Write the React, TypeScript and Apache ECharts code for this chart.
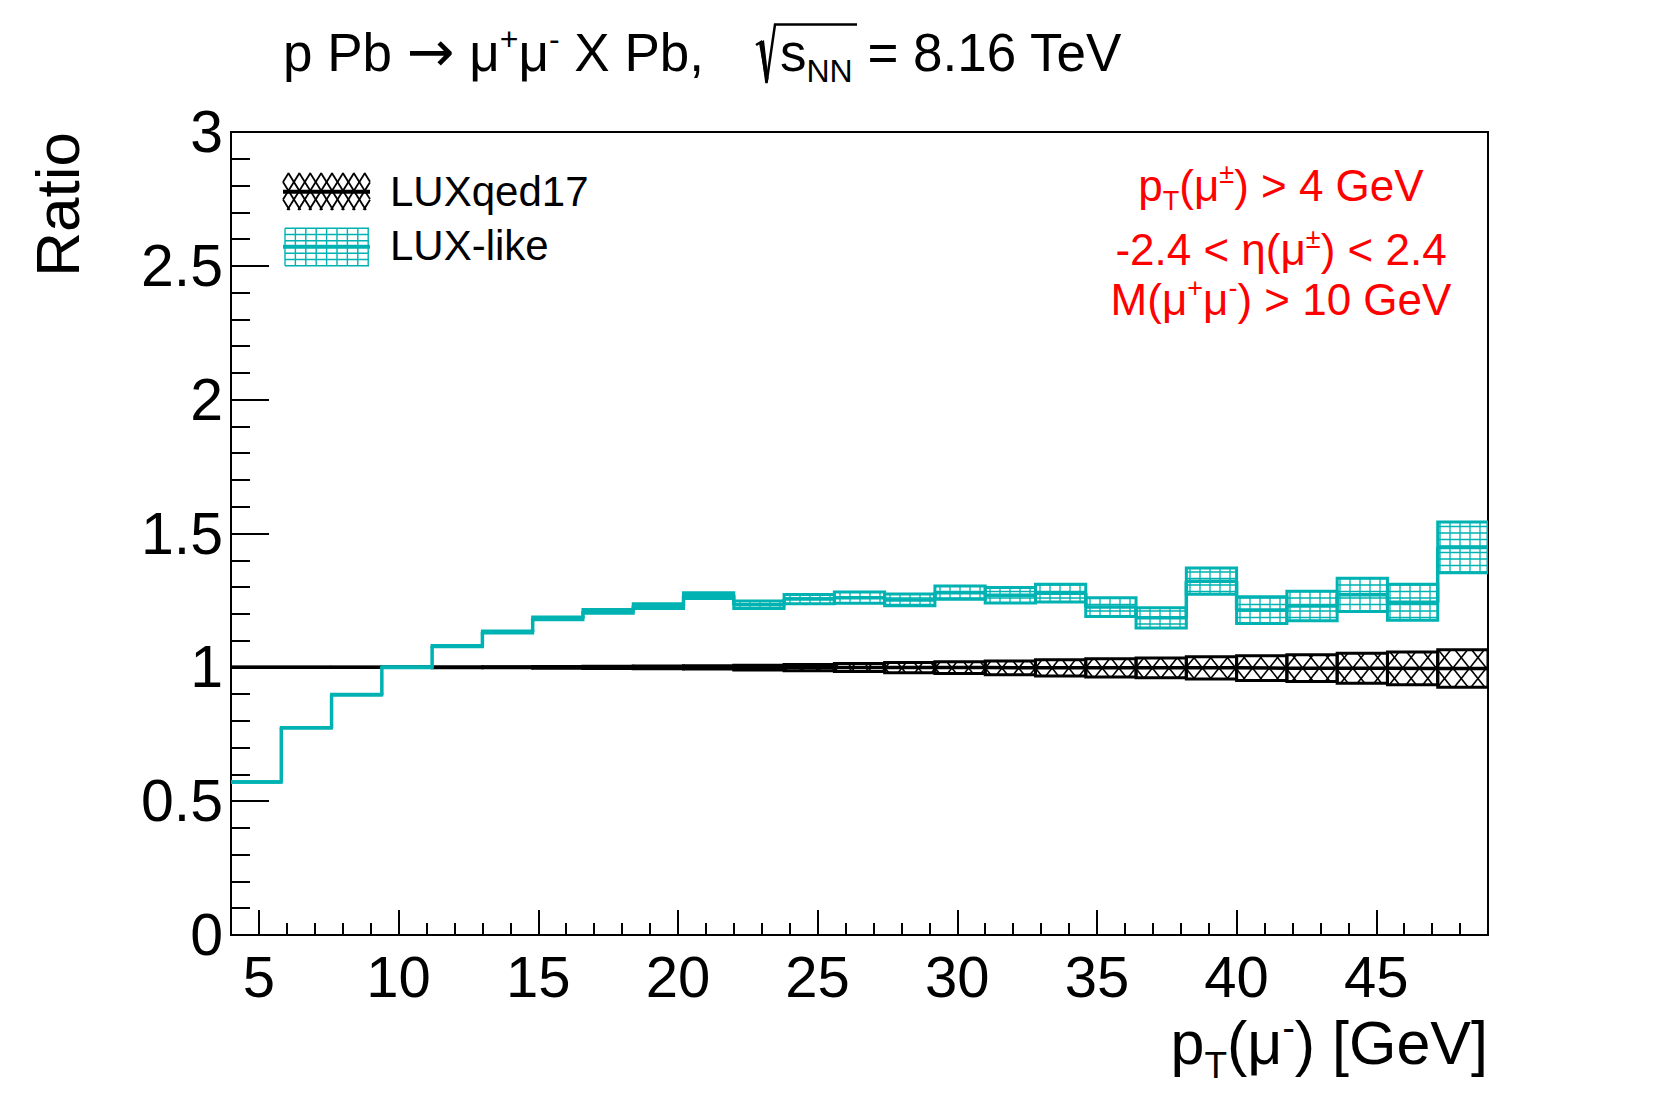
import React, { useEffect, useRef } from 'react';
import * as echarts from 'echarts';

// ---------- data ----------
const binEdges = [4, 5.8, 7.6, 9.4, 11.2, 13, 14.8, 16.6, 18.4, 20.2, 22, 23.8, 25.6, 27.4, 29.2, 31, 32.8, 34.6, 36.4, 38.2, 40, 41.8, 43.6, 45.4, 47.2, 49];
const luxLikeRatio = [0.572, 0.774, 0.898, 1.0, 1.079, 1.132, 1.183, 1.209, 1.229, 1.268, 1.234, 1.255, 1.26, 1.252, 1.279, 1.269, 1.277, 1.225, 1.185, 1.322, 1.214, 1.229, 1.271, 1.243, 1.448];
const luxLikeErr = [0.001, 0.001, 0.0015, 0.002, 0.0025, 0.0037, 0.0055, 0.007, 0.009, 0.011, 0.014, 0.017, 0.021, 0.022, 0.025, 0.029, 0.033, 0.035, 0.038, 0.049, 0.05, 0.055, 0.062, 0.067, 0.095];
const luxqedRatio = [1.0, 1.0, 1.0, 1.0, 1.0, 1.0, 1.0, 1.0, 1.0, 1.0, 0.999, 0.999, 0.999, 0.999, 0.999, 0.998, 0.998, 0.998, 0.998, 0.998, 0.997, 0.997, 0.997, 0.996, 0.996];
const luxqedErr = [0, 0, 0.0005, 0.001, 0.0015, 0.002, 0.003, 0.004, 0.005, 0.006, 0.009, 0.012, 0.015, 0.019, 0.022, 0.026, 0.03, 0.034, 0.037, 0.042, 0.046, 0.05, 0.056, 0.061, 0.07];
const xTickValues = [5, 10, 15, 20, 25, 30, 35, 40, 45];
const xRange = [4, 49];
const yRange = [0, 3];
const legendNames = ['LUXqed17', 'LUX-like'];

const TEAL = '#00b2b2';
const FONT = '"Liberation Sans", Arial, Helvetica, sans-serif';
const ARROW_FONT = '"DejaVu Sans", "Liberation Sans", sans-serif';

// ---------- helpers ----------
let measureCtx: CanvasRenderingContext2D | null = null;
function measure(t: string, size: number, family = FONT): number {
  if (!measureCtx) measureCtx = document.createElement('canvas').getContext('2d');
  measureCtx!.font = `${size}px ${family}`;
  return measureCtx!.measureText(t).width;
}

type Run = { t: string; s: number; dy: number; f?: string };

function textEl(t: string, x: number, baseline: number, size: number, color: string, align = 'left', family = FONT) {
  return {
    type: 'text',
    silent: true,
    style: {
      text: t,
      x,
      y: baseline - 0.3465 * size,
      font: `${size}px ${family}`,
      fill: color,
      align,
      textAlign: align,
      verticalAlign: 'middle',
      textVerticalAlign: 'middle',
    },
  };
}

function layoutRuns(runs: Run[], x: number, baseline: number, align: 'left' | 'center' | 'right', color: string) {
  const widths = runs.map((r) => measure(r.t, r.s, r.f || FONT));
  const total = widths.reduce((a, b) => a + b, 0);
  let cx = align === 'left' ? x : align === 'center' ? x - total / 2 : x - total;
  const els: any[] = [];
  runs.forEach((r, i) => {
    els.push(textEl(r.t, cx, baseline - r.dy, r.s, color, 'left', r.f || FONT));
    cx += widths[i];
  });
  return els;
}

function gridHatch(rx: number, ry: number, w: number, h: number, dx: number, dy: number, ox: number, oy: number, color: string, lw: number, inclusive = false) {
  const out: any[] = [];
  const eps = inclusive ? 0.01 : -0.01;
  for (let x = ox + Math.ceil((rx - ox - (inclusive ? 0.01 : 0)) / dx) * dx; x < rx + w + eps; x += dx) {
    out.push({ type: 'line', silent: true, shape: { x1: x, y1: ry, x2: x, y2: ry + h }, style: { stroke: color, lineWidth: lw } });
  }
  for (let y = oy + Math.ceil((ry - oy - (inclusive ? 0.01 : 0)) / dy) * dy; y < ry + h + eps; y += dy) {
    out.push({ type: 'line', silent: true, shape: { x1: rx, y1: y, x2: rx + w, y2: y }, style: { stroke: color, lineWidth: lw } });
  }
  return out;
}

// two families of slanted lines (slopes +s and -s), horizontal period P
function crossHatch(rx: number, ry: number, w: number, h: number, P: number, s: number, ox: number, oy: number, color: string, lw: number) {
  const out: any[] = [];
  const C = s * P;
  // family A: s*(x-ox) + (y-oy) = c  -> y = oy + c - s*(x-ox)
  {
    const cMin = s * (rx - ox) + (ry - oy);
    const cMax = s * (rx + w - ox) + (ry + h - oy);
    for (let k = Math.ceil(cMin / C); k * C <= cMax; k++) {
      const c = k * C;
      const xa = Math.max(rx, ox + (c - (ry + h - oy)) / s);
      const xb = Math.min(rx + w, ox + (c - (ry - oy)) / s);
      if (xb > xa)
        out.push({ type: 'line', silent: true, shape: { x1: xa, y1: oy + c - s * (xa - ox), x2: xb, y2: oy + c - s * (xb - ox) }, style: { stroke: color, lineWidth: lw } });
    }
  }
  // family B: s*(x-ox) - (y-oy) = c -> y = oy + s*(x-ox) - c
  {
    const cMin = s * (rx - ox) - (ry + h - oy);
    const cMax = s * (rx + w - ox) - (ry - oy);
    for (let k = Math.ceil(cMin / C); k * C <= cMax; k++) {
      const c = k * C;
      const xa = Math.max(rx, ox + (c + (ry - oy)) / s);
      const xb = Math.min(rx + w, ox + (c + (ry + h - oy)) / s);
      if (xb > xa)
        out.push({ type: 'line', silent: true, shape: { x1: xa, y1: oy + s * (xa - ox) - c, x2: xb, y2: oy + s * (xb - ox) - c }, style: { stroke: color, lineWidth: lw } });
    }
  }
  return out;
}

function boxRenderer(kind: 'cross' | 'grid', color: string) {
  return (params: any, api: any) => {
    const lo = api.value(0);
    const hi = api.value(1);
    const c = api.value(2);
    const d = api.value(3);
    const p1 = api.coord([lo, c + d]);
    const p2 = api.coord([hi, c - d]);
    const rx = p1[0];
    const ry = p1[1];
    const w = p2[0] - p1[0];
    const h = p2[1] - p1[1];
    const children =
      kind === 'cross'
        ? crossHatch(rx, ry, w, h, 16.7, 1.25, 0, 0, color, 1.6)
        : gridHatch(rx, ry, w, h, 10, 6.5, 0, 0, color, 1.3);
    children.push({
      type: 'rect',
      silent: true,
      shape: { x: rx, y: ry, width: w, height: h },
      style: { fill: 'none', stroke: color, lineWidth: 3 },
    });
    return { type: 'group', children };
  };
}

function boxData(vals: number[], errs: number[]) {
  return vals.map((v, i) => [binEdges[i], binEdges[i + 1], v, errs[i]]);
}
function stepData(vals: number[]) {
  return binEdges.map((e, i) => [e, vals[Math.min(i, vals.length - 1)]]);
}

function buildGraphic() {
  const g: any[] = [];
  // Title
  const T = 53;
  const ts = 32;
  g.push(
    ...layoutRuns(
      [
        { t: 'p Pb ', s: T, dy: 0 },
        { t: '\u2192', s: 57, dy: 0, f: ARROW_FONT },
        { t: ' \u03bc', s: T, dy: 0 },
        { t: '+', s: ts, dy: 21 },
        { t: '\u03bc', s: T, dy: 0 },
        { t: '-', s: ts, dy: 21 },
        { t: ' X Pb,', s: T, dy: 0 },
      ],
      283,
      71,
      'left',
      '#000'
    )
  );
  // radical
  g.push({
    type: 'polyline',
    silent: true,
    shape: { points: [[756, 45], [761, 42], [766.5, 83], [775, 24.5], [857, 24.5]] },
    style: { stroke: '#000', lineWidth: 2.5, fill: 'none' },
  });
  g.push({
    type: 'polygon',
    silent: true,
    shape: { points: [[759, 43], [764, 40], [768.5, 79], [766, 83]] },
    style: { fill: '#000' },
  });
  g.push(
    ...layoutRuns(
      [
        { t: 's', s: T, dy: 0 },
        { t: 'NN', s: ts, dy: -11 },
        { t: ' = 8.16 TeV', s: T, dy: 0 },
      ],
      780,
      71,
      'left',
      '#000'
    )
  );

  // Red selection text
  const R = 44;
  const rs = 27;
  const red = '#ff0000';
  g.push(
    ...layoutRuns(
      [
        { t: 'p', s: R, dy: 0 },
        { t: 'T', s: rs, dy: -10 },
        { t: '(\u03bc', s: R, dy: 0 },
        { t: '\u00b1', s: rs, dy: 17 },
        { t: ') > 4 GeV', s: R, dy: 0 },
      ],
      1281,
      200.5,
      'center',
      red
    )
  );
  g.push(
    ...layoutRuns(
      [
        { t: '-2.4 < \u03b7(\u03bc', s: R, dy: 0 },
        { t: '\u00b1', s: rs, dy: 17 },
        { t: ') < 2.4', s: R, dy: 0 },
      ],
      1281,
      265,
      'center',
      red
    )
  );
  g.push(
    ...layoutRuns(
      [
        { t: 'M(\u03bc', s: R, dy: 0 },
        { t: '+', s: rs, dy: 17 },
        { t: '\u03bc', s: R, dy: 0 },
        { t: '-', s: rs, dy: 17 },
        { t: ') > 10 GeV', s: R, dy: 0 },
      ],
      1281,
      314.5,
      'center',
      red
    )
  );

  // Legend
  const L = 42;
  g.push(...crossHatch(283, 173, 87, 37, 10.9, 1.6, 283, 182, '#000', 1.8));
  g.push({ type: 'line', silent: true, shape: { x1: 283, y1: 191.7, x2: 370, y2: 191.7 }, style: { stroke: '#000', lineWidth: 4 } });
  g.push(textEl(legendNames[0], 390, 205.8, L, '#000'));
  g.push(...gridHatch(285, 228.3, 84, 37.4, 10.4, 6.23, 285, 228.3, TEAL, 1.4, true));
  g.push({ type: 'line', silent: true, shape: { x1: 283, y1: 246.7, x2: 370, y2: 246.7 }, style: { stroke: TEAL, lineWidth: 4 } });
  g.push(textEl(legendNames[1], 390, 259.6, L, '#000'));

  // Y axis title (rotated)
  g.push({
    type: 'text',
    silent: true,
    x: 57,
    y: 132,
    rotation: Math.PI / 2,
    style: {
      text: 'Ratio',
      x: 0,
      y: 0,
      font: `62px ${FONT}`,
      fill: '#000',
      align: 'right',
      textAlign: 'right',
      verticalAlign: 'middle',
      textVerticalAlign: 'middle',
    },
  });

  // X axis title
  g.push(
    ...layoutRuns(
      [
        { t: 'p', s: 61, dy: 0 },
        { t: 'T', s: 37, dy: -14 },
        { t: '(\u03bc', s: 61, dy: 0 },
        { t: '-', s: 37, dy: 24 },
        { t: ') [GeV]', s: 61, dy: 0 },
      ],
      1488,
      1064,
      'right',
      '#000'
    )
  );
  return g;
}

export default function App() {
  const ref = useRef<HTMLDivElement>(null);
  useEffect(() => {
    if (!ref.current) return;
    const chart = echarts.init(ref.current, undefined, { renderer: 'svg' });
    const tickLine = { color: '#000', width: 2 };
    chart.setOption({
      animation: false,
      backgroundColor: '#fff',
      grid: {
        left: 231,
        top: 132,
        right: 167,
        bottom: 168,
        show: true,
        borderColor: '#000',
        borderWidth: 2,
        backgroundColor: 'transparent',
        containLabel: false,
      },
      xAxis: [
        {
          type: 'value',
          position: 'bottom',
          min: xRange[0],
          max: xRange[1],
          axisLine: { show: true, onZero: false, lineStyle: tickLine },
          axisTick: { show: true, inside: true, length: 25, lineStyle: tickLine, customValues: xTickValues },
          axisLabel: {
            show: true,
            customValues: xTickValues,
            margin: 12,
            color: '#000',
            fontFamily: FONT,
            fontSize: 58,
            lineHeight: 58,
          },
          splitLine: { show: false },
        },
        {
          type: 'value',
          position: 'bottom',
          min: xRange[0],
          max: xRange[1],
          interval: 1,
          axisLine: { show: false, onZero: false },
          axisTick: { show: true, inside: true, length: 12, lineStyle: tickLine },
          axisLabel: { show: false },
          splitLine: { show: false },
        },
      ],
      yAxis: {
        type: 'value',
        min: yRange[0],
        max: yRange[1],
        interval: 0.5,
        axisLine: { show: true, onZero: false, lineStyle: tickLine },
        axisTick: { show: true, inside: true, length: 38, lineStyle: tickLine },
        minorTick: { show: true, splitNumber: 5, length: 19, lineStyle: tickLine },
        axisLabel: { color: '#000', fontFamily: FONT, fontSize: 59, margin: 8 },
        splitLine: { show: false },
        minorSplitLine: { show: false },
      },
      series: [
        {
          name: legendNames[0] + ' band',
          type: 'custom',
          xAxisIndex: 0,
          yAxisIndex: 0,
          renderItem: boxRenderer('cross', '#000'),
          data: boxData(luxqedRatio, luxqedErr),
          encode: { x: [0, 1], y: 2 },
          clip: true,
          z: 2,
          silent: true,
        },
        {
          name: legendNames[0],
          type: 'line',
          xAxisIndex: 0,
          yAxisIndex: 0,
          step: 'end',
          symbol: 'none',
          data: stepData(luxqedRatio),
          lineStyle: { color: '#000', width: 3.5 },
          clip: true,
          z: 3,
          silent: true,
        },
        {
          name: legendNames[1] + ' band',
          type: 'custom',
          xAxisIndex: 0,
          yAxisIndex: 0,
          renderItem: boxRenderer('grid', TEAL),
          data: boxData(luxLikeRatio, luxLikeErr),
          encode: { x: [0, 1], y: 2 },
          clip: true,
          z: 4,
          silent: true,
        },
        {
          name: legendNames[1],
          type: 'line',
          xAxisIndex: 0,
          yAxisIndex: 0,
          step: 'end',
          symbol: 'none',
          data: stepData(luxLikeRatio),
          lineStyle: { color: TEAL, width: 3.5 },
          clip: true,
          z: 5,
          silent: true,
        },
      ],
      graphic: buildGraphic(),
    });
    return () => {
      chart.dispose();
    };
  }, []);
  return (
    <div
      ref={ref}
      style={{ position: 'absolute', left: 0, top: 0, width: 1655, height: 1103, background: '#fff' }}
    />
  );
}
